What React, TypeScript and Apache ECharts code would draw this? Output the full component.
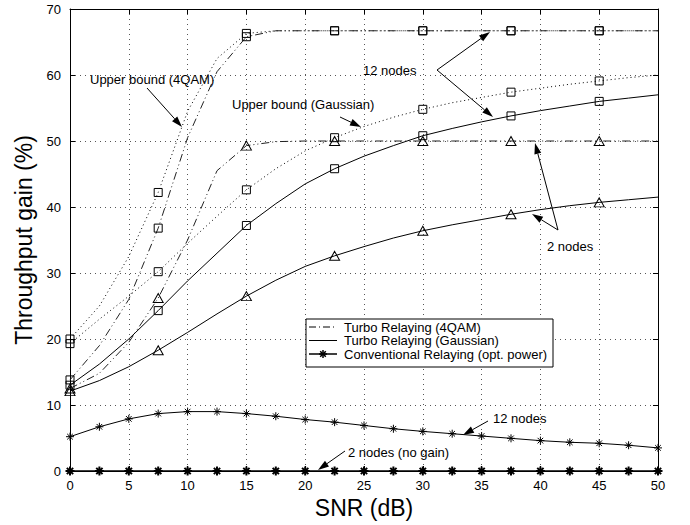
import React, { useEffect, useRef } from "react";
import * as echarts from "echarts";

const snr = [0, 2.5, 5, 7.5, 10, 12.5, 15, 17.5, 20, 22.5, 25, 27.5, 30, 32.5, 35, 37.5, 40, 42.5, 45, 47.5, 50];
const xTicks = { min: 0, max: 50, interval: 5 };
const yTicks = { min: 0, max: 70, interval: 10 };

// 12 nodes
const ub4qam12 = [20.0, 25.0, 32.5, 42.2, 54.5, 62.5, 66.3, 66.7, 66.7, 66.7, 66.7, 66.7, 66.7, 66.7, 66.7, 66.7, 66.7, 66.7, 66.7, 66.7, 66.7];
const turbo4qam12 = [13.8, 19.0, 26.0, 36.8, 50.5, 60.5, 65.8, 66.7, 66.7, 66.7, 66.7, 66.7, 66.7, 66.7, 66.7, 66.7, 66.7, 66.7, 66.7, 66.7, 66.7];
const ubGauss12 = [19.3, 23.0, 26.5, 30.2, 34.5, 38.6, 42.6, 45.8, 48.5, 50.5, 52.2, 53.6, 54.8, 55.8, 56.6, 57.4, 58.0, 58.6, 59.1, 59.6, 60.0];
const turboGauss12 = [13.0, 16.2, 20.0, 24.3, 28.8, 33.0, 37.2, 40.5, 43.5, 45.8, 47.7, 49.3, 50.8, 51.9, 52.9, 53.8, 54.6, 55.3, 56.0, 56.5, 57.0];
// 2 nodes
const turbo4qam2 = [12.5, 14.8, 19.5, 26.2, 35.0, 45.5, 49.3, 49.9, 50.0, 50.0, 50.0, 50.0, 50.0, 50.0, 50.0, 50.0, 50.0, 50.0, 50.0, 50.0, 50.0];
const turboGauss2 = [12.1, 13.7, 15.8, 18.3, 21.0, 23.8, 26.5, 28.9, 31.0, 32.6, 34.0, 35.3, 36.4, 37.3, 38.1, 38.9, 39.6, 40.2, 40.7, 41.1, 41.5];
// conventional relaying
const conv12 = [5.2, 6.7, 7.9, 8.7, 9.0, 9.0, 8.7, 8.3, 7.8, 7.4, 6.9, 6.4, 6.0, 5.65, 5.3, 4.95, 4.6, 4.35, 4.2, 3.9, 3.5];
const conv2 = [0, 0, 0, 0, 0, 0, 0, 0, 0, 0, 0, 0, 0, 0, 0, 0, 0, 0, 0, 0, 0];

const legendItems = ["Turbo Relaying (4QAM)", "Turbo Relaying (Gaussian)", "Conventional Relaying (opt. power)"];

const FONT = "'Liberation Sans', Arial, Helvetica, sans-serif";
const STAR = "path://M5,0L5,10M0,5L10,5M1.5,1.5L8.5,8.5M1.5,8.5L8.5,1.5";

function arrow(x1: number, y1: number, x2: number, y2: number) {
  const dx = x2 - x1, dy = y2 - y1;
  const L = Math.sqrt(dx * dx + dy * dy);
  const ux = dx / L, uy = dy / L;
  const hl = 11, hw = 3.5;
  const bx = x2 - ux * hl, by = y2 - uy * hl;
  return [
    { type: "line", shape: { x1, y1, x2: bx, y2: by }, style: { stroke: "#000", lineWidth: 1 }, z: 100 },
    {
      type: "polygon",
      shape: { points: [[x2, y2], [bx - uy * hw, by + ux * hw], [bx + uy * hw, by - ux * hw]] },
      style: { fill: "#000" },
      z: 100,
    },
  ];
}

function txt(x: number, y: number, s: string) {
  return { type: "text", x, y, style: { text: s, font: `13px ${FONT}`, fill: "#000", verticalAlign: "middle", align: "left" }, z: 100 };
}

function mkSeries(name: string, ys: number[], symbol: string, dash: any, symbolSize: any, every: number, maxX: number, lineColor = "#000") {
  return {
    name,
    type: "line",
    showAllSymbol: true,
    data: snr.map((x, i) => ({
      value: [x, ys[i]],
      symbol: i % every === 0 && x <= maxX ? symbol : "none",
    })),
    symbolSize,
    lineStyle: { color: lineColor, width: 1, type: dash },
    itemStyle: { color: "rgba(255,255,255,0)", borderColor: "#000", borderWidth: 1 },
    z: 3,
  };
}

export default function App() {
  const ref = useRef<HTMLDivElement>(null);
  useEffect(() => {
    document.body.style.margin = "0";
    const chart = echarts.init(ref.current!, null, { renderer: "svg" });
    const dashDotDot = [8, 3, 1, 3, 1, 3];
    const dotted = [1, 3];
    const series: any[] = [
      mkSeries("UB 4QAM 12", ub4qam12, "rect", dotted, 8, 3, 45),
      mkSeries("Turbo 4QAM 12", turbo4qam12, "rect", dashDotDot, 8, 3, 45, "#222"),
      mkSeries("UB Gauss 12", ubGauss12, "rect", dotted, 8, 3, 45),
      mkSeries("Turbo Gauss 12", turboGauss12, "rect", "solid", 8, 3, 45),
      mkSeries("Turbo 4QAM 2", turbo4qam2, "triangle", dashDotDot, [10, 9], 3, 45, "#222"),
      mkSeries("Turbo Gauss 2", turboGauss2, "triangle", "solid", [10, 9], 3, 45),
      {
        ...mkSeries("Conv 12", conv12, STAR, "solid", 8, 1, 50),
        itemStyle: { color: "#000", borderColor: "#000", borderWidth: 1 },
      },
      {
        ...mkSeries("Conv 2", conv2, STAR, "solid", 9, 1, 50),
        lineStyle: { color: "#000", width: 1.5 },
        itemStyle: { color: "#000", borderColor: "#000", borderWidth: 2 },
      },
    ];

    const axisCommon = {
      type: "value",
      axisLine: { show: true, onZero: false, lineStyle: { color: "#000", width: 1 } },
      axisTick: { show: true, inside: true, length: 5, lineStyle: { color: "#000" } },
    };
    const gridLine = { show: true, lineStyle: { color: "#555", type: [1, 4], width: 1 } };

    const graphic: any[] = [
      // legend box
      { type: "rect", shape: { x: 306, y: 319, width: 247, height: 48 }, style: { fill: "#fff", stroke: "#000", lineWidth: 1 }, z: 100 },
      { type: "line", shape: { x1: 309, y1: 327, x2: 337, y2: 327 }, style: { stroke: "#000", lineWidth: 1, lineDash: [7, 3, 1, 3] }, z: 101 },
      { type: "line", shape: { x1: 309, y1: 340.5, x2: 337, y2: 340.5 }, style: { stroke: "#000", lineWidth: 1 }, z: 101 },
      { type: "line", shape: { x1: 309, y1: 354, x2: 337, y2: 354 }, style: { stroke: "#000", lineWidth: 1.5 }, z: 101 },
      {
        type: "group", x: 319, y: 350, z: 101,
        children: [
          { type: "line", shape: { x1: 4, y1: 0, x2: 4, y2: 8 }, style: { stroke: "#000", lineWidth: 1.5 }, z: 101 },
          { type: "line", shape: { x1: 0, y1: 4, x2: 8, y2: 4 }, style: { stroke: "#000", lineWidth: 1.5 }, z: 101 },
          { type: "line", shape: { x1: 1.2, y1: 1.2, x2: 6.8, y2: 6.8 }, style: { stroke: "#000", lineWidth: 1.5 }, z: 101 },
          { type: "line", shape: { x1: 1.2, y1: 6.8, x2: 6.8, y2: 1.2 }, style: { stroke: "#000", lineWidth: 1.5 }, z: 101 },
        ],
      },
      { ...txt(344, 327, legendItems[0]), z: 101 },
      { ...txt(344, 340.5, legendItems[1]), z: 101 },
      { ...txt(344, 354, legendItems[2]), z: 101 },
      // annotations
      txt(90, 79, "Upper bound (4QAM)"),
      ...arrow(147, 88, 182, 127),
      txt(232, 104, "Upper bound (Gaussian)"),
      ...arrow(340, 117, 361, 127),
      txt(363, 70, "12 nodes"),
      ...arrow(437, 70, 490, 32),
      ...arrow(437, 70, 493, 117),
      txt(547, 246, "2 nodes"),
      ...arrow(558, 230, 535, 143),
      ...arrow(558, 230, 532, 214),
      txt(493, 418, "12 nodes"),
      ...arrow(488, 421, 463, 435),
      txt(348, 452, "2 nodes (no gain)"),
      ...arrow(345, 451, 318, 470),
    ];

    chart.setOption({
      animation: false,
      backgroundColor: "#fff",
      textStyle: { fontFamily: FONT },
      grid: { left: 70, right: 32, top: 9, bottom: 54, containLabel: false },
      xAxis: [
        {
          ...axisCommon,
          ...xTicks,
          position: "bottom",
          name: "SNR (dB)",
          nameLocation: "middle",
          nameGap: 18,
          nameTextStyle: { fontSize: 23, color: "#000", fontFamily: FONT, verticalAlign: "top" },
          axisLabel: { color: "#000", fontSize: 13, margin: 8, fontFamily: FONT },
          splitLine: gridLine,
        },
        {
          ...axisCommon,
          ...xTicks,
          position: "top",
          axisLabel: { show: false },
          splitLine: { show: false },
        },
      ],
      yAxis: [
        {
          ...axisCommon,
          ...yTicks,
          position: "left",
          name: "Throughput gain (%)",
          nameLocation: "middle",
          nameGap: 30,
          nameTextStyle: { fontSize: 23, color: "#000", fontFamily: FONT },
          axisLabel: { color: "#000", fontSize: 13, margin: 9, fontFamily: FONT },
          splitLine: gridLine,
        },
        {
          ...axisCommon,
          ...yTicks,
          position: "right",
          axisLabel: { show: false },
          splitLine: { show: false },
        },
      ],
      series,
      graphic,
    });
    return () => chart.dispose();
  }, []);
  return <div ref={ref} style={{ width: 690, height: 525 }} />;
}
